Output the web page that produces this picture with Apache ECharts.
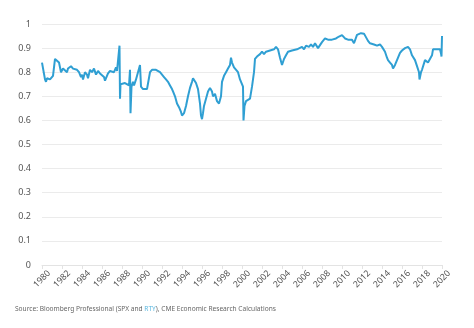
<!DOCTYPE html>
<html><head><meta charset="utf-8">
<script src="https://cdn.jsdelivr.net/npm/echarts@6/dist/echarts.min.js"></script>
<style>html,body{margin:0;padding:0;background:#fff}#c{width:474px;height:328px}</style>
</head><body><div id="c"></div>
<script>
const years = [
1980.0,1980.2,1980.3,1980.4,1980.5,1980.8,1981.0,1981.1,1981.2,1981.3,1981.5,1981.7,1981.9,1982.1,1982.3,1982.5,1982.6,1982.8,1982.9,1983.1,
1983.3,1983.5,1983.7,1983.9,1984.0,1984.1,1984.3,1984.5,1984.6,1984.8,1985.0,1985.2,1985.4,1985.6,1985.8,1986.0,1986.2,1986.3,1986.5,1986.6,
1986.8,1987.0,1987.2,1987.4,1987.5,1987.6,1987.75,1987.8,1987.85,1988.0,1988.3,1988.5,1988.7,1988.8,1988.85,1988.95,1989.1,1989.2,1989.4,1989.6,
1989.8,1989.9,1990.1,1990.3,1990.5,1990.8,1991.0,1991.2,1991.4,1991.6,1991.8,1992.0,1992.2,1992.4,1992.6,1992.8,1993.0,1993.1,1993.3,1993.5,
1993.7,1993.9,1994.0,1994.1,1994.2,1994.4,1994.6,1994.8,1995.0,1995.1,1995.2,1995.4,1995.6,1995.7,1995.8,1995.9,1996.0,1996.1,1996.2,1996.4,
1996.6,1996.8,1997.0,1997.1,1997.3,1997.5,1997.7,1997.9,1998.0,1998.2,1998.4,1998.6,1998.8,1998.9,1999.0,1999.2,1999.4,1999.6,1999.7,1999.8,
2000.0,2000.1,2000.15,2000.25,2000.4,2000.6,2000.8,2001.0,2001.2,2001.3,2001.5,2001.8,2002.0,2002.2,2002.4,2002.6,2002.8,2003.0,2003.2,2003.4,
2003.6,2003.8,2004.0,2004.2,2004.4,2004.6,2004.8,2005.0,2005.2,2005.5,2005.7,2006.0,2006.2,2006.4,2006.7,2006.9,2007.1,2007.3,2007.6,2008.0,
2008.3,2008.6,2009.0,2009.4,2009.7,2010.0,2010.3,2010.6,2011.0,2011.2,2011.5,2011.6,2011.9,
2012.2,2012.4,2012.6,2012.8,2013.0,2013.2,2013.5,2013.8,2014.0,2014.1,2014.3,2014.5,2014.6,2014.8,2015.0,2015.1,2015.3,2015.5,2015.8,2016.0,
2016.3,2016.6,2016.8,2017.0,2017.3,2017.5,2017.7,2017.75,2017.9,2018.0,2018.3,2018.5,2018.6,2018.8,2019.0,2019.1,2019.3,2019.5,2019.7,2019.8,
2019.9,2019.95,2020.0
];
const correlation = [
0.84,0.835,0.77,0.76,0.775,0.77,0.775,0.785,0.79,0.855,0.85,0.84,0.80,0.815,0.81,0.80,0.815,0.82,0.825,0.815,
0.82,0.81,0.80,0.78,0.79,0.77,0.80,0.79,0.775,0.81,0.80,0.815,0.79,0.805,0.795,0.80,0.78,0.765,0.76,0.795,
0.805,0.81,0.80,0.82,0.805,0.80,0.91,0.69,0.75,0.75,0.755,0.75,0.745,0.81,0.63,0.74,0.76,0.745,0.77,0.765,
0.83,0.74,0.73,0.735,0.73,0.80,0.81,0.815,0.81,0.805,0.80,0.79,0.78,0.77,0.76,0.745,0.73,0.72,0.70,0.67,
0.655,0.635,0.62,0.615,0.63,0.66,0.70,0.735,0.76,0.775,0.77,0.755,0.73,0.70,0.67,0.62,0.605,0.63,0.66,0.69,
0.72,0.735,0.72,0.70,0.71,0.68,0.67,0.70,0.76,0.785,0.80,0.815,0.83,0.86,0.84,0.82,0.815,0.80,0.805,0.77,
0.765,0.74,0.60,0.66,0.68,0.675,0.69,0.74,0.80,0.855,0.865,0.875,0.885,0.875,0.885,0.88,0.89,0.885,0.895,0.905,
0.895,0.86,0.83,0.855,0.87,0.885,0.88,0.89,0.885,0.895,0.89,0.905,0.895,0.91,0.905,0.915,0.905,0.92,0.90,0.925,
0.94,0.935,0.935,0.94,0.948,0.954,0.94,0.935,0.935,0.92,0.955,0.96,0.962,
0.96,0.955,0.93,0.92,0.925,0.915,0.91,0.915,0.905,0.90,0.885,0.86,0.85,0.84,0.83,0.815,0.83,0.85,0.88,0.89,
0.90,0.905,0.895,0.87,0.85,0.825,0.80,0.77,0.80,0.81,0.85,0.855,0.84,0.835,0.87,0.895,0.89,0.895,0.90,0.895,
0.878,0.865,0.95
];
const xTicks = [1980,1982,1984,1986,1988,1990,1992,1994,1996,1998,2000,2002,2004,2006,2008,2010,2012,2014,2016,2018,2020];
const yTicks = [0,0.1,0.2,0.3,0.4,0.5,0.6,0.7,0.8,0.9,1];

const chart = echarts.init(document.getElementById('c'), null, {renderer:'canvas'});
chart.setOption({
  animation:false,
  backgroundColor:'#fff',
  textStyle:{fontFamily:'Noto Sans'},
  grid:{left:42,right:32,top:24,bottom:63,containLabel:false},
  xAxis:{
    type:'value', min:xTicks[0], max:xTicks[xTicks.length-1], interval:2,
    axisLine:{show:true,lineStyle:{color:'#e3e3e3',width:1}},
    axisTick:{show:true,length:4,lineStyle:{color:'#e3e3e3'}},
    splitLine:{show:false},
    axisLabel:{rotate:45,align:'center',verticalAlign:'middle',margin:14,fontSize:8.8,color:'#555',
      formatter:v=>String(v)}
  },
  yAxis:{
    type:'value', min:yTicks[0], max:yTicks[yTicks.length-1], interval:0.1,
    axisLine:{show:false}, axisTick:{show:false},
    splitLine:{lineStyle:{color:'#ebebeb',width:1}},
    axisLabel:{fontSize:9,color:'#555',margin:11,formatter:v=>String(Math.round(v*10)/10)}
  },
  series:[{
    type:'line', showSymbol:false, symbol:'none',
    data:years.map((y,i)=>[y,correlation[i]]),
    lineStyle:{color:'#2f9fd3',width:2},
    itemStyle:{color:'#2f9fd3'}
  }],
  graphic:[{
    type:'text', left:15, top:306,
    style:{
      text:'Source: Bloomberg Professional (SPX and {b|RTY}), CME Economic Research Calculations',
      fontSize:6.6, fill:'#666', fontFamily:'Noto Sans',
      rich:{b:{fill:'#5bb8e0',fontSize:6.6,fontFamily:'Noto Sans'}}
    }
  }]
});
</script></body></html>
